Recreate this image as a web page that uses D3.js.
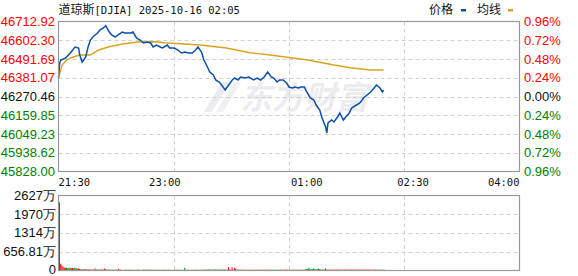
<!DOCTYPE html>
<html>
<head>
<meta charset="utf-8">
<script src="https://cdn.jsdelivr.net/npm/d3@7"></script>
<style>
  body { margin: 0; background: #fff; }
  svg { display: block; }
</style>
</head>
<body>
<div id="chart"></div>
<script>
// chart data (minutes after 21:30)
var priceMin = [0,1,2,6,10,14,17,18,20,23,25,27,29,33,35,39,40,43,45,48,50,54,56,61,63,66,69,72,75,78,80,83,86,88,92,94,98,101,104,107,110,113,116,118,121,123,126,128,131,133,136,138,141,144,147,149,152,154,158,161,165,168,171,174,177,180,182,185,187,190,193,195,198,200,203,205,208,210,213,216,218,221,223,226,227,228,231,233,236,238,241,243,246,248,252,255,258,261,264,267,269,272,274,275];
var priceVal = [46379.6,46468.1,46485.8,46497.6,46527.1,46562.5,46556.6,46515.3,46474.0,46503.5,46562.5,46603.8,46621.5,46645.1,46662.8,46680.5,46688.1,46651.0,46633.3,46621.5,46633.3,46651.0,46645.1,46645.1,46651.0,46615.6,46603.8,46586.1,46592.0,46586.1,46562.5,46574.3,46562.5,46556.6,46574.3,46556.6,46556.6,46544.8,46527.1,46533.0,46527.1,46527.1,46544.8,46562.5,46533.0,46485.8,46444.5,46415.0,46397.3,46367.8,46356.0,46338.3,46308.8,46338.3,46367.8,46379.6,46367.8,46385.5,46379.6,46385.5,46367.8,46379.6,46367.8,46385.5,46415.0,46385.5,46379.6,46356.0,46367.8,46367.8,46350.1,46326.5,46320.6,46326.5,46320.6,46326.5,46326.5,46297.0,46261.6,46249.8,46220.3,46190.8,46143.6,46090.5,46055.1,46114.1,46131.8,46120.0,46149.5,46173.1,46131.8,46149.5,46173.1,46202.6,46220.3,46232.1,46261.6,46279.3,46297.0,46320.6,46338.3,46320.6,46297.0,46308.8];

var avgMin = [0,3,7,10,18,27,34,42,54,67,82,90,120,142,162,179,190,211,233,247,264,275];
var avgVal = [46379.6,46456.3,46485.8,46497.6,46515.3,46515.3,46544.8,46562.5,46580.2,46592.0,46593.7,46587.8,46574.3,46556.6,46528.8,46515.3,46505.2,46485.8,46456.3,46440.3,46426.8,46426.8];

// volume per minute in 万, negative = down minute (green)
var volume = [
  2390,240,175,140,110,-90,-100,80,-100,-95,85,90,-70,-100,-90,60,70,55,-45,40,
  -50,45,-40,35,40,45,-35,30,35,-30,70,-40,30,30,-35,40,35,-30,70,45,
  30,-35,-30,-30,25,30,-25,-30,30,25,60,-30,30,25,-20,-25,-30,-25,-30,25,
  -30,-25,30,-20,-25,-30,-25,-30,-25,-20,-25,30,-30,-25,-25,-30,30,-25,-30,-25,
  25,-25,-30,25,-25,-30,-20,-25,-25,30,-25,-25,30,-25,-25,-20,-25,-25,-30,-25,
  -25,-30,-25,-25,-20,25,-95,-25,-30,-25,-20,-25,-25,25,-30,25,-25,-30,-25,25,
  -25,-30,-25,-30,-35,-30,-35,-30,-30,-35,-30,-35,-30,-30,-35,-30,-30,-35,-30,-35,
  -35,-30,30,120,30,-30,115,30,90,-60,30,-30,30,-25,30,30,-25,30,25,-25,
  25,-25,30,-25,-25,30,25,-25,30,-25,25,30,-25,30,30,-25,30,25,-25,-30,
  -25,-30,-25,-30,25,-30,-25,-30,-25,-25,30,30,25,30,25,30,25,25,30,25,
  25,-25,30,25,-25,30,25,-30,-40,-45,-60,-100,-50,-40,-45,-75,-40,-45,-50,-65,
  -45,-40,-35,-40,-35,70,-30,35,30,30,35,-30,30,30,35,30,35,-30,30,30,
  30,35,30,30,-30,30,35,30,30,30,35,30,30,-25,30,30,35,30,30,30,
  30,35,30,30,25,30,30,35,30,-25,-30,-25,30,25,-30,25
];

var preClose = 46270.46;
var yTicks = [45828.00,45938.62,46049.23,46159.85,46270.46,46381.07,46491.69,46602.30,46712.92];
var pctTicks = ["0.96%","0.72%","0.48%","0.24%","0.00%","0.24%","0.48%","0.72%","0.96%"];
var xTickLabels = ["21:30","23:00","01:00","02:30","04:00"];
var xTickMin = [0,90,210,300,390];
var volTicks = [0,656.81,1314,1970,2627];
var volTickLabels = ["0","656.81万","1314万","1970万","2627万"];

var W = 578, H = 276;
var left = 58.5, right = 519.5;
var top1 = 21.5, bot1 = 171.5;
var top2 = 195.5, bot2 = 270.5;

var red = "#f00", green = "#008000";
var numFont = "'Liberation Sans', Arial, sans-serif";
var monoFont = "'DejaVu Sans Mono', monospace";
var cjkFont = "'Noto Sans CJK SC', sans-serif";

var svg = d3.select("#chart").append("svg")
  .attr("width", W).attr("height", H);

var x = d3.scaleLinear().domain([0, 390]).range([left, right]);
var y = d3.scaleLinear().domain([yTicks[0], yTicks[8]]).range([bot1, top1]);
var yv = d3.scaleLinear().domain([0, 2627]).range([bot2, top2]);

// watermark
var wm = svg.append("g").attr("fill", "#ececf0");
wm.append("path").attr("d", "M204,112 L222,82 L230,82 L212,112 Z");
wm.append("path").attr("d", "M216,112 L234,82 L241,82 L223,112 Z").attr("opacity", 0.8);
wm.append("text").attr("x", 240).attr("y", 109)
  .attr("font-family", cjkFont).attr("font-weight", "bold")
  .attr("font-size", 32).attr("font-style", "italic")
  .text("东方财富");

// grids
var gridQ = [97.5, 195, 292.5];
function grid(g, yTop, yBot, yVals, ys) {
  g.selectAll(".h").data(yVals).enter().append("line")
    .attr("x1", left).attr("x2", right)
    .attr("y1", d => Math.round(ys(d)) + 0.5).attr("y2", d => Math.round(ys(d)) + 0.5)
    .attr("stroke", "#d0d0d0").attr("stroke-dasharray", "4,3");
  g.selectAll(".v").data(gridQ).enter().append("line")
    .attr("y1", yTop).attr("y2", yBot)
    .attr("x1", d => Math.round(x(d)) + 0.5).attr("x2", d => Math.round(x(d)) + 0.5)
    .attr("stroke", "#d0d0d0").attr("stroke-dasharray", "4,3");
}
grid(svg.append("g"), top1, bot1, yTicks.slice(1, 8), y);
grid(svg.append("g"), top2, bot2, volTicks.slice(1, 4), yv);

// price & average lines
var line = d3.line().x(d => x(d[0])).y(d => y(d[1]));
svg.append("path")
  .datum(avgMin.map((m, i) => [m, avgVal[i]]))
  .attr("d", line).attr("fill", "none")
  .attr("stroke", "#dba31c").attr("stroke-width", 1.4);
svg.append("path")
  .datum(priceMin.map((m, i) => [m, priceVal[i]]))
  .attr("d", line).attr("fill", "none")
  .attr("stroke", "#0c50a8").attr("stroke-width", 1.5);

// volume bars
svg.append("g").selectAll("rect")
  .data(volume).enter().append("rect")
  .attr("x", (d, i) => x(i) + 0.5)
  .attr("width", 1)
  .attr("y", d => yv(Math.abs(d)))
  .attr("height", d => bot2 - yv(Math.abs(d)))
  .attr("fill", d => d < 0 ? green : red);

// frames
[[top1, bot1], [top2, bot2]].forEach(function (r) {
  svg.append("rect").attr("x", left).attr("y", r[0])
    .attr("width", right - left).attr("height", r[1] - r[0])
    .attr("fill", "none").attr("stroke", "#999").attr("stroke-width", 1.2);
});

// left price labels
svg.append("g").selectAll("text")
  .data(yTicks).enter().append("text")
  .attr("x", 55).attr("y", d => y(d) + 4.5)
  .attr("text-anchor", "end")
  .attr("font-family", numFont).attr("font-size", 13)
  .attr("fill", d => d > preClose + 1 ? red : d < preClose - 1 ? green : "#111")
  .text(d => d.toFixed(2));

// right percent labels
svg.append("g").selectAll("text")
  .data(yTicks).enter().append("text")
  .attr("x", 524).attr("y", d => y(d) + 4.5)
  .attr("font-family", numFont).attr("font-size", 13)
  .attr("fill", d => d > preClose + 1 ? red : d < preClose - 1 ? green : "#111")
  .text((d, i) => pctTicks[i]);

// time labels
svg.append("g").selectAll("text")
  .data(xTickMin).enter().append("text")
  .attr("x", (d, i) => i === 0 ? left : i === 4 ? right : x(d))
  .attr("y", 186)
  .attr("text-anchor", (d, i) => i === 0 ? "start" : i === 4 ? "end" : "middle")
  .attr("font-family", monoFont).attr("font-size", 10.5)
  .attr("fill", "#111")
  .text((d, i) => xTickLabels[i]);

// volume labels
svg.append("g").selectAll("text")
  .data(volTicks).enter().append("text")
  .attr("x", 56).attr("y", d => Math.min(yv(d) + 4.5, 274))
  .attr("text-anchor", "end")
  .attr("font-family", numFont).attr("font-size", 13)
  .attr("fill", "#111")
  .text((d, i) => volTickLabels[i]);

// header
var hd = svg.append("text").attr("x", left).attr("y", 14)
  .attr("font-size", 12).attr("fill", "#111");
hd.append("tspan").attr("font-family", cjkFont).text("道琼斯");
hd.append("tspan").attr("font-family", monoFont).attr("font-size", 10.5)
  .text("[DJIA] 2025-10-16 02:05");

// legend
svg.append("text").attr("x", 429).attr("y", 14)
  .attr("font-family", cjkFont).attr("font-size", 12).attr("fill", "#111").text("价格");
svg.append("rect").attr("x", 461).attr("y", 9).attr("width", 5).attr("height", 2.5).attr("fill", "#0c50a8");
svg.append("text").attr("x", 477).attr("y", 14)
  .attr("font-family", cjkFont).attr("font-size", 12).attr("fill", "#111").text("均线");
svg.append("rect").attr("x", 508).attr("y", 9).attr("width", 5).attr("height", 2.5).attr("fill", "#dba31c");
</script>
</body>
</html>
